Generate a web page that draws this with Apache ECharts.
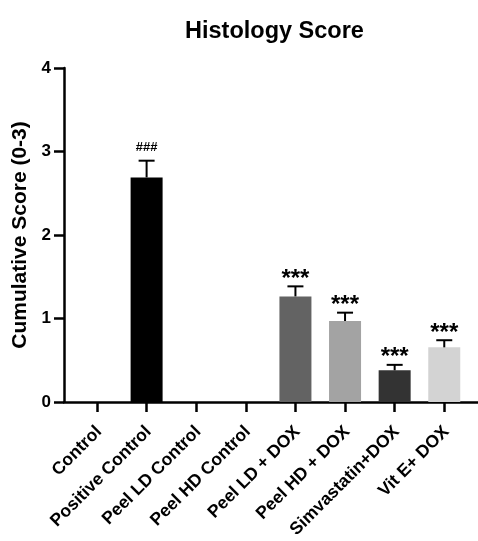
<!DOCTYPE html>
<html>
<head>
<meta charset="utf-8">
<script src="https://cdn.jsdelivr.net/npm/echarts@6/dist/echarts.min.js"></script>
<style>
  html, body { margin: 0; padding: 0; background: #fff; }
  #histology_bar { width: 478px; height: 541px; }
</style>
</head>
<body>
<div id="histology_bar"></div>
<script>
// groups on the x axis
const categories = ['Control', 'Positive Control', 'Peel LD Control', 'Peel HD Control',
  'Peel LD + DOX', 'Peel HD + DOX', 'Simvastatin+DOX', 'Vit E+ DOX'];
// mean score and upper error (SEM)
const means = [0, 2.69, 0, 0, 1.265, 0.97, 0.38, 0.655];
const errors = [0, 0.2, 0, 0, 0.12, 0.1, 0.065, 0.085];
// significance marks above the bars
const marks = ['', '###', '', '', '***', '***', '***', '***'];
const yTicks = [0, 1, 2, 3, 4];

const barColors = ['#000', '#000', '#000', '#000', '#636363', '#a3a3a3', '#333333', '#d3d3d3'];
const FONT = '"Liberation Sans", Arial, sans-serif';
const LABEL_SHIFT = 0.04; // rotated text ends a touch right of the tick

const myChart = echarts.init(document.getElementById('histology_bar'));

const options = {
  backgroundColor: '#fff',
  animation: false,
  title: {
    text: 'Histology Score',
    left: 180,
    top: 15,
    textStyle: { color: '#000', fontSize: 23.5, fontWeight: 'bold', fontFamily: FONT }
  },
  grid: { left: 64, right: 0, top: 68, bottom: 136, containLabel: false },
  xAxis: {
    type: 'value',
    min: -0.665,
    max: 7.68,
    splitLine: { show: false },
    axisLine: { show: true, onZero: false, lineStyle: { color: '#000', width: 2.5 } },
    axisTick: {
      show: true,
      customValues: categories.map((c, i) => i),
      length: 10,
      lineStyle: { color: '#000', width: 2.5 }
    },
    axisLabel: {
      customValues: categories.map((c, i) => i + LABEL_SHIFT),
      formatter: v => categories[Math.round(v)],
      rotate: 45,
      margin: 27,
      color: '#000',
      fontSize: 17.5,
      fontWeight: 'bold',
      fontFamily: FONT
    }
  },
  yAxis: {
    type: 'value',
    min: yTicks[0],
    max: yTicks[yTicks.length - 1],
    interval: 1,
    name: 'Cumulative Score (0-3)',
    nameLocation: 'middle',
    nameGap: 27,
    nameTextStyle: { color: '#000', fontSize: 21, fontWeight: 'bold', fontFamily: FONT },
    splitLine: { show: false },
    axisLine: { show: true, onZero: false, lineStyle: { color: '#000', width: 2.5 } },
    axisTick: { show: true, length: 10, lineStyle: { color: '#000', width: 2.5 } },
    axisLabel: { color: '#000', fontSize: 17, fontWeight: 'bold', fontFamily: FONT, margin: 13 }
  },
  series: [
    {
      name: 'score',
      type: 'bar',
      barWidth: 32,
      data: means.map((v, i) => ({ value: [i, v], itemStyle: { color: barColors[i] } }))
    },
    {
      // error bars + significance marks
      name: 'error',
      type: 'custom',
      z: 3,
      data: means.map((m, i) => [i, m, errors[i]]),
      renderItem: (params, api) => {
        const i = api.value(0);
        const m = api.value(1);
        const e = api.value(2);
        if (!e) return;
        const base = api.coord([i, m]);
        const top = api.coord([i, m + e]);
        const isHash = marks[i] === '###';
        return {
          type: 'group',
          children: [
            { type: 'line', shape: { x1: base[0], y1: base[1], x2: top[0], y2: top[1] },
              style: { stroke: '#000', lineWidth: 2 } },
            { type: 'line', shape: { x1: top[0] - 8, y1: top[1], x2: top[0] + 8, y2: top[1] },
              style: { stroke: '#000', lineWidth: 2 } },
            { type: 'text', x: top[0], y: top[1] - (isHash ? 13 : 7),
              style: {
                text: marks[i],
                align: 'center',
                verticalAlign: 'middle',
                fill: '#000',
                font: (isHash ? 'bold 13px ' : 'bold 24px ') + FONT
              } }
          ]
        };
      }
    }
  ]
};

myChart.setOption(options);
</script>
</body>
</html>
